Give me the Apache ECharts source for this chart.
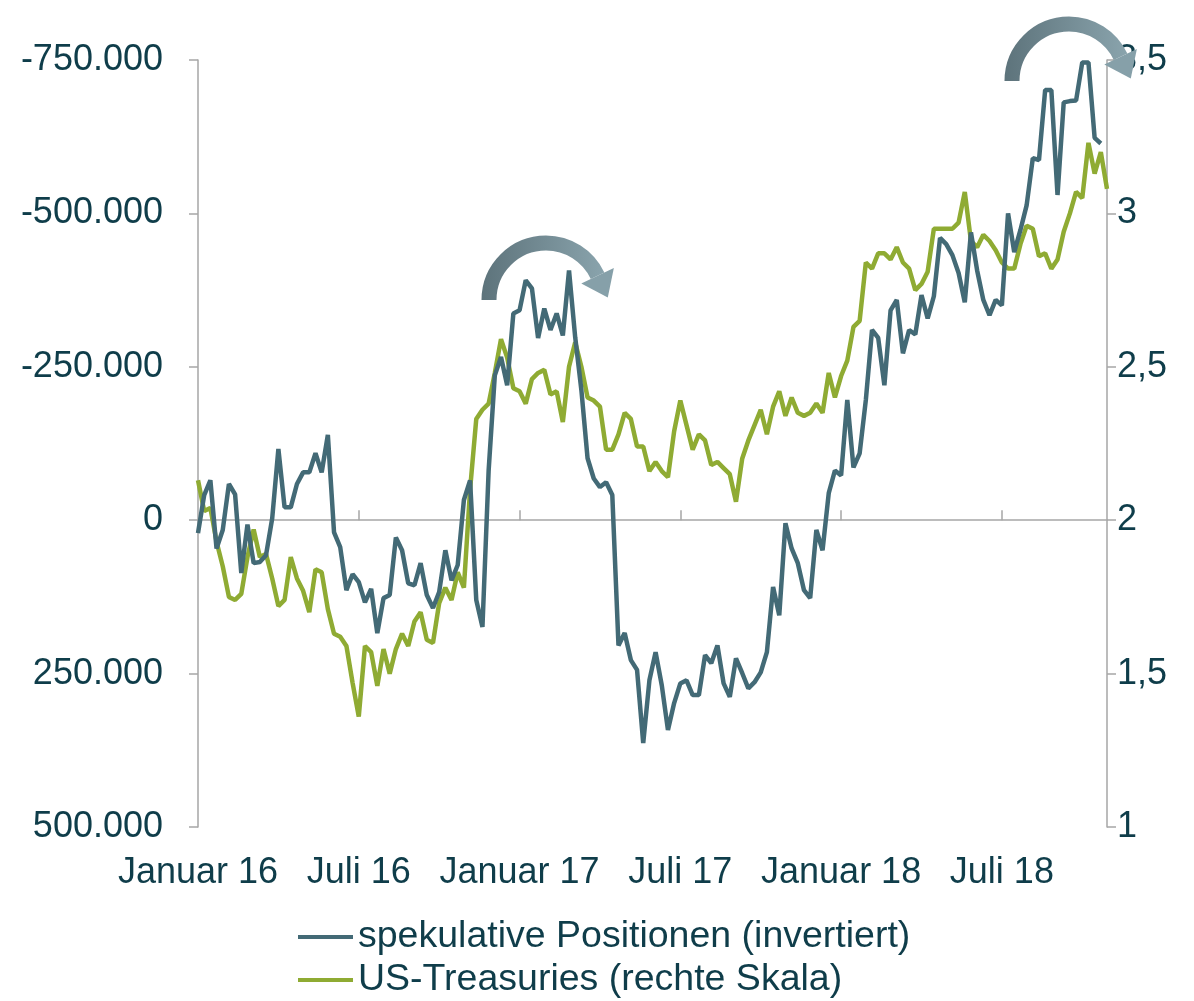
<!DOCTYPE html>
<html>
<head>
<meta charset="utf-8">
<script src="https://cdn.jsdelivr.net/npm/echarts@6/dist/echarts.min.js"></script>
<style>
  html, body { margin: 0; padding: 0; background: #fff; }
  #chart { width: 1194px; height: 1001px; }
</style>
</head>
<body>
<div id="chart"></div>
<script>
// Wochenwerte, Januar 2016 bis Ende Oktober 2018
const tickLabels = ["Januar 16", "Juli 16", "Januar 17", "Juli 17", "Januar 18", "Juli 18"];

// spekulative Positionen (Kontrakte), linke Skala invertiert
const positionen = [
  21000, -41000, -65000, 46000, 16000, -59000, -42000, 86000, 7000, 70000,
  68000, 57000, -3000, -116000, -21000, -21000, -59000, -78000, -78000, -109000,
  -78000, -139000, 20000, 44000, 114000, 88000, 101000, 134000, 112000, 184000,
  127000, 122000, 28000, 49000, 103000, 106000, 70000, 122000, 143000, 117000,
  49000, 98000, 73000, -33000, -65000, 130000, 174000, -81000, -236000, -266000,
  -220000, -337000, -342000, -391000, -378000, -297000, -345000, -310000, -337000, -301000,
  -407000, -298000, -212000, -101000, -68000, -54000, -62000, -41000, 204000, 184000,
  228000, 244000, 363000, 261000, 215000, 269000, 342000, 298000, 266000, 261000,
  285000, 285000, 220000, 233000, 204000, 266000, 288000, 225000, 249000, 274000,
  264000, 248000, 215000, 109000, 155000, 5000, 46000, 70000, 114000, 127000,
  16000, 49000, -44000, -81000, -73000, -196000, -86000, -109000, -196000, -310000,
  -297000, -220000, -342000, -359000, -272000, -310000, -303000, -367000, -329000, -365000,
  -460000, -450000, -432000, -403000, -355000, -469000, -407000, -359000, -334000, -359000,
  -350000, -500000, -437000, -473000, -513000, -590000, -587000, -701000, -701000, -530000,
  -681000, -683000, -684000, -746000, -746000, -623000, -614000, null
];

// Rendite 10-jaehriger US-Treasuries in %, rechte Skala
const treasuries = [
  2.13, 2.03, 2.04, 1.93, 1.85, 1.75, 1.74, 1.76, 1.88, 1.97,
  1.88, 1.89, 1.81, 1.72, 1.74, 1.88, 1.81, 1.77, 1.70, 1.84,
  1.83, 1.71, 1.63, 1.62, 1.59, 1.47, 1.36, 1.59, 1.57, 1.46,
  1.58, 1.50, 1.58, 1.63, 1.59, 1.67, 1.70, 1.61, 1.60, 1.73,
  1.78, 1.74, 1.83, 1.78, 2.10, 2.33, 2.36, 2.38, 2.48, 2.59,
  2.53, 2.43, 2.42, 2.38, 2.46, 2.48, 2.49, 2.41, 2.42, 2.32,
  2.50, 2.58, 2.50, 2.40, 2.39, 2.37, 2.23, 2.23, 2.28, 2.35,
  2.33, 2.24, 2.24, 2.16, 2.19, 2.16, 2.14, 2.29, 2.39, 2.31,
  2.23, 2.28, 2.26, 2.18, 2.19, 2.17, 2.15, 2.06, 2.20, 2.26,
  2.31, 2.36, 2.28, 2.37, 2.42, 2.34, 2.40, 2.35, 2.34, 2.35,
  2.38, 2.35, 2.48, 2.40, 2.47, 2.52, 2.63, 2.65, 2.84, 2.82,
  2.87, 2.87, 2.85, 2.89, 2.84, 2.82, 2.75, 2.77, 2.81, 2.95,
  2.95, 2.95, 2.95, 2.97, 3.07, 2.91, 2.89, 2.93, 2.91, 2.88,
  2.84, 2.82, 2.82, 2.90, 2.96, 2.95, 2.86, 2.87, 2.82, 2.85,
  2.94, 3.00, 3.07, 3.05, 3.23, 3.13, 3.20, 3.08
];

const weeks = treasuries.map((v, i) => i);

const textColor = "#0f3d4a";
const axisColor = "#a6a6a6";
const blue = "#436a76";
const green = "#8fab33";
const font = "Liberation Sans, Arial, sans-serif";

const chart = echarts.init(document.getElementById("chart"));

function fmtLeft(v) {
  if (v === 0) return "0";
  const s = Math.abs(v).toString().replace(/\B(?=(\d{3})+(?!\d))/g, ".");
  return (v < 0 ? "-" : "") + s;
}

function arrow(dx, dy) {
  const cx = 546 + dx, cy = 300 + dy;
  const a = Math.PI * 1.86;
  const ex = cx + 57 * Math.cos(a), ey = cy + 57 * Math.sin(a);
  const tx = -Math.sin(a), ty = Math.cos(a);   // Tangente
  const px = Math.cos(a), py = Math.sin(a);     // radial
  return [
    {
      type: "arc",
      shape: { cx: cx, cy: cy, r: 57, startAngle: Math.PI, endAngle: a, clockwise: true },
      style: {
        fill: null,
        lineWidth: 15,
        stroke: new echarts.graphic.LinearGradient(0, 0, 1, 0, [
          { offset: 0, color: "#5d737b" },
          { offset: 1, color: "#8aa4ad" },
        ], false),
      },
      z: 10,
    },
    {
      type: "polygon",
      shape: {
        points: [
          [ex + px * 18, ey + py * 18],
          [ex - px * 18, ey - py * 18],
          [ex + tx * 24, ey + ty * 24],
        ],
      },
      style: { fill: "#86a0a9" },
      z: 10,
    },
  ];
}

function legendItem(name, top) {
  return {
    orient: "vertical",
    left: 298,
    top: top,
    padding: 0,
    itemWidth: 55,
    itemHeight: 4,
    icon: "rect",
    selectedMode: false,
    textStyle: { fontSize: 37.5, color: textColor, fontFamily: font },
    data: [name],
  };
}

const option = {
  animation: false,
  backgroundColor: "#fff",
  textStyle: { fontFamily: font },
  grid: { left: 198, right: 87, top: 60, bottom: 174, containLabel: false },
  legend: [
    legendItem("spekulative Positionen (invertiert)", 918),
    legendItem("US-Treasuries (rechte Skala)", 961),
  ],
  xAxis: [
    {
      type: "category",
      data: weeks,
      boundaryGap: false,
      position: "bottom",
      axisLine: { show: false, onZero: false },
      axisTick: { show: false },
      axisLabel: {
        interval: (i) => i % 26 === 0,
        formatter: (v, i) => tickLabels[i / 26],
        fontSize: 36,
        color: textColor,
        margin: 28,
      },
      splitLine: { show: false },
    },
    {
      type: "category",
      data: weeks,
      boundaryGap: false,
      position: "bottom",
      axisLine: { show: true, onZero: true, lineStyle: { color: axisColor, width: 1.5 } },
      axisTick: {
        show: true,
        inside: true,
        length: 10,
        interval: (i) => i % 26 === 0 && i > 0,
        lineStyle: { color: axisColor, width: 1.5 },
      },
      axisLabel: { show: false },
      splitLine: { show: false },
    },
  ],
  yAxis: [
    {
      type: "value",
      inverse: true,
      min: -750000,
      max: 500000,
      interval: 250000,
      axisLine: { show: true, lineStyle: { color: axisColor, width: 1.5 } },
      axisTick: { show: true, length: 9, lineStyle: { color: axisColor, width: 1.5 } },
      axisLabel: { formatter: fmtLeft, fontSize: 36, color: textColor, margin: 35 },
      splitLine: { show: false },
    },
    {
      type: "value",
      min: 1,
      max: 3.5,
      interval: 0.5,
      position: "right",
      axisLine: { show: true, lineStyle: { color: axisColor, width: 1.5 } },
      axisTick: { show: true, length: 9, lineStyle: { color: axisColor, width: 1.5 } },
      axisLabel: {
        formatter: (v) => String(v).replace(".", ","),
        fontSize: 36,
        color: textColor,
        margin: 10,
      },
      splitLine: { show: false },
    },
  ],
  series: [
    {
      name: "US-Treasuries (rechte Skala)",
      type: "line",
      xAxisIndex: 0,
      yAxisIndex: 1,
      data: treasuries,
      showSymbol: false,
      lineStyle: { color: green, width: 4.5 },
      itemStyle: { color: green },
      z: 2,
    },
    {
      name: "spekulative Positionen (invertiert)",
      type: "line",
      xAxisIndex: 0,
      yAxisIndex: 0,
      data: positionen,
      showSymbol: false,
      lineStyle: { color: blue, width: 4.5 },
      itemStyle: { color: blue },
      z: 3,
    },
  ],
  graphic: arrow(0, 0).concat(arrow(523, -219)),
};

chart.setOption(option);
</script>
</body>
</html>
